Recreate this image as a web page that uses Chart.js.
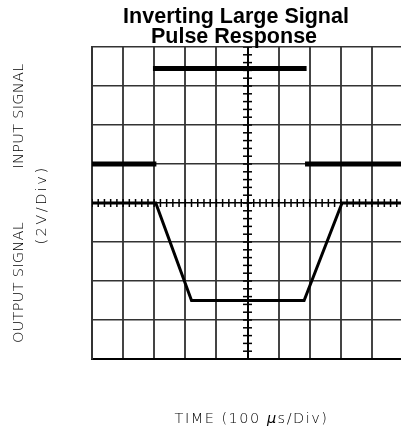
<!DOCTYPE html>
<html>
<head>
<meta charset="utf-8">
<script src="https://cdn.jsdelivr.net/npm/chart.js@4.4.1/dist/chart.umd.min.js"></script>
<style>
    html, body { margin: 0; padding: 0; background: #fff; overflow: hidden; width: 401px; height: 429px; }
    canvas { display: block; }
</style>
</head>
<body>
<canvas id="scope" width="409" height="429"></canvas>
<script>
// scope screen: x in divisions (100 us/div), y in divisions (2 V/div)
const timeDivs = 10;
const voltDivs = 4;

// input pulse, drawn as flat segments only (null y = break in trace)
const inputX = [0, 2.07, 2.0, 1.96, 6.9, 6.88, 6.85, 10];
const inputY = [1, 1, null, 3.45, 3.45, null, 1, 1];

// inverted output with slewing edges
const outputX = [0, 2.05, 3.2, 6.82, 8.04, 10];
const outputY = [0, 0, -2.5, -2.5, 0, 0];

// minor graticule marks on the centre lines (5 per division)
const minorStep = 0.2;

const titleLines = ['Inverting Large Signal', 'Pulse Response'];
const yLabelTop = 'INPUT SIGNAL';
const yLabelBottom = 'OUTPUT SIGNAL';
const yUnits = '(2V/Div)';
const xLabelParts = ['TIME (100 ', 'μ', 's/Div)'];

const labelFont = '14.5px "DejaVu Sans", sans-serif';

function toPoints(xs, ys) {
    return xs.map((x, i) => ({ x: x, y: ys[i] }));
}

// centre-line tick positions
const hTicks = [];
for (let i = 0; i <= Math.round(timeDivs / minorStep); i++) {
    hTicks.push({ x: i * minorStep, y: 0 });
}
const vTicks = [];
for (let i = 0; i <= Math.round(2 * voltDivs / minorStep); i++) {
    vTicks.push({ x: timeDivs / 2, y: -voltDivs + i * minorStep });
}

const scopeText = {
    id: 'scopeText',
    afterDraw(chart) {
        const ctx = chart.ctx;
        ctx.save();
        ctx.fillStyle = '#000';

        // title
        ctx.font = 'bold 21.5px "Liberation Sans", Arial, sans-serif';
        ctx.textAlign = 'center';
        ctx.textBaseline = 'alphabetic';
        ctx.fillText(titleLines[0], 236, 23.3);
        ctx.fillText(titleLines[1], 234, 42.5);

        // rotated y labels
        ctx.font = '200 ' + labelFont;
        ctx.save();
        ctx.translate(23.3, 116);
        ctx.rotate(-Math.PI / 2);
        ctx.letterSpacing = '0.3px';
        ctx.fillText(yLabelTop, 0, 0);
        ctx.restore();

        ctx.save();
        ctx.translate(23.3, 282.5);
        ctx.rotate(-Math.PI / 2);
        ctx.letterSpacing = '0.3px';
        ctx.fillText(yLabelBottom, 0, 0);
        ctx.restore();

        ctx.save();
        ctx.translate(45.5, 205);
        ctx.rotate(-Math.PI / 2);
        ctx.letterSpacing = '2.5px';
        ctx.fillText(yUnits, 0, 0);
        ctx.restore();

        // x label with italic mu
        ctx.letterSpacing = '1.5px';
        const fonts = ['200 ' + labelFont, 'italic 200 ' + labelFont, '200 ' + labelFont];
        const widths = xLabelParts.map((t, i) => {
            ctx.font = fonts[i];
            return ctx.measureText(t).width;
        });
        const total = widths.reduce((a, b) => a + b, 0);
        let x = 251.5 - total / 2;
        ctx.textAlign = 'left';
        xLabelParts.forEach((t, i) => {
            ctx.font = fonts[i];
            ctx.fillText(t, x, 423);
            x += widths[i];
        });
        ctx.restore();
    }
};

const ctx = document.getElementById('scope').getContext('2d');
new Chart(ctx, {
    type: 'line',
    data: {
        datasets: [{
            label: 'Input',
            data: toPoints(inputX, inputY),
            borderColor: '#000',
            borderWidth: 5,
            borderCapStyle: 'butt',
            pointRadius: 0,
            spanGaps: false,
            tension: 0,
            order: 1
        }, {
            label: 'Output',
            data: toPoints(outputX, outputY),
            borderColor: '#000',
            borderWidth: 3,
            borderJoinStyle: 'miter',
            pointRadius: 0,
            tension: 0,
            order: 1
        }, {
            label: 'hticks',
            data: hTicks,
            showLine: false,
            pointStyle: 'line',
            rotation: 90,
            pointRadius: 4,
            pointBorderWidth: 1.5,
            pointBorderColor: '#000',
            order: 3
        }, {
            label: 'vticks',
            data: vTicks,
            showLine: false,
            pointStyle: 'line',
            rotation: 0,
            pointRadius: 4.5,
            pointBorderWidth: 1.5,
            pointBorderColor: '#000',
            order: 3
        }]
    },
    options: {
        responsive: false,
        animation: false,
        events: [],
        layout: { padding: { left: 92, top: 47, right: 1, bottom: 70 } },
        plugins: {
            legend: { display: false },
            tooltip: { enabled: false },
            title: { display: false }
        },
        scales: {
            x: {
                type: 'linear',
                min: 0,
                max: timeDivs,
                ticks: { display: false, stepSize: 1 },
                grid: {
                    drawTicks: false,
                    color: c => c.tick.value === timeDivs / 2 ? '#000' : '#444',
                    lineWidth: 2
                },
                border: { display: true, color: '#000', width: 2 }
            },
            y: {
                type: 'linear',
                min: -voltDivs,
                max: voltDivs,
                ticks: { display: false, stepSize: 1 },
                grid: {
                    drawTicks: false,
                    color: c => c.tick.value === 0 ? '#000' : '#333',
                    lineWidth: 1.5
                },
                border: { display: true, color: '#333', width: 2 }
            }
        }
    },
    plugins: [scopeText]
});
</script>
</body>
</html>
